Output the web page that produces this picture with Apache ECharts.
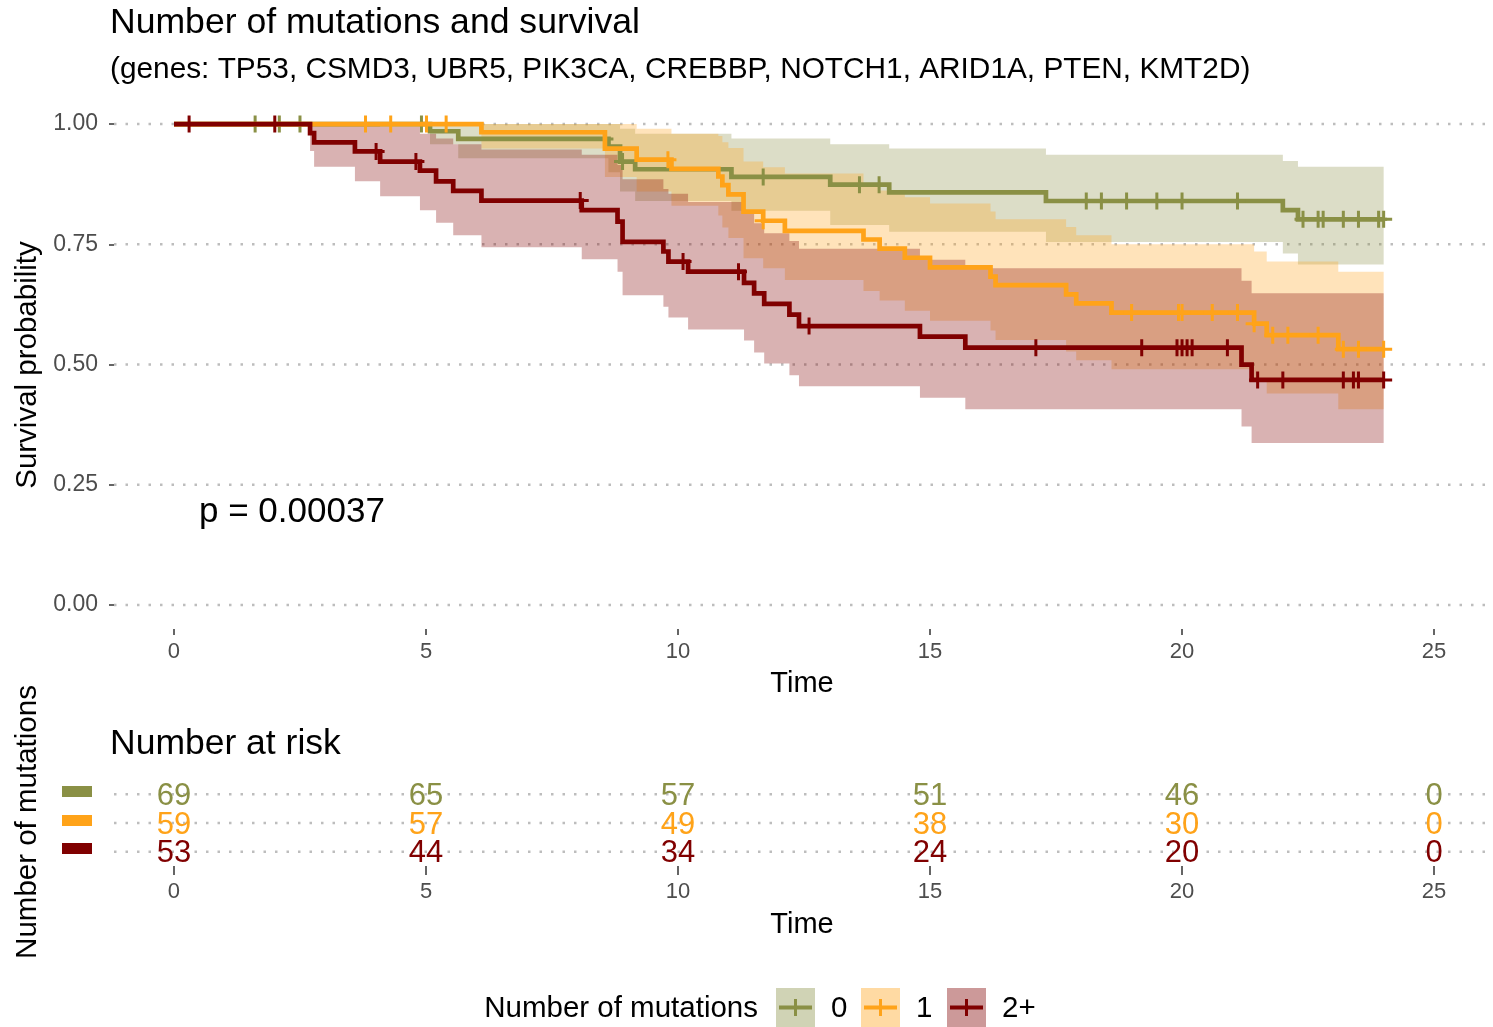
<!DOCTYPE html>
<html><head><meta charset="utf-8">
<script src="https://cdn.jsdelivr.net/npm/echarts@6/dist/echarts.min.js"></script>
<style>html,body{margin:0;padding:0;background:#fff}#c{width:1493px;height:1027px}</style>
</head><body><div id="c"></div>
<script>
// ---------- data ----------
const groupNames = ['0', '1', '2+'];
const groupColors = ['#8A9045', '#FFA319', '#800000'];
const endTime = 24.0;

// group "0"
const times0 = [0, 5.08, 5.64, 8.62, 8.85, 9.15, 11.06, 13.02, 14.19, 17.3, 22.0, 22.3];
const surv0  = [1, 0.985, 0.969, 0.953, 0.922, 0.906, 0.890, 0.874, 0.858, 0.840, 0.821, 0.802];
const upper0 = [1, 1, 1, 1, 0.99, 0.98, 0.97, 0.958, 0.949, 0.936, 0.923, 0.911];
const lower0 = [1, 0.958, 0.929, 0.90, 0.86, 0.84, 0.82, 0.79, 0.776, 0.755, 0.731, 0.708];
const censor0 = [1.61, 2.09, 2.5, 4.91, 8.55, 8.9, 11.69, 13.6, 13.99, 18.1, 18.4, 18.9, 19.5, 20.0, 21.1, 22.4, 22.7, 22.8, 23.2, 23.5, 23.9, 24.0];

// group "1"
const times1 = [0, 6.1, 8.55, 9.18, 9.87, 10.8, 10.88, 11.0, 11.3, 11.69, 12.12, 13.68, 14.0, 14.5, 15.0, 16.2, 16.3, 17.7, 17.9, 18.6, 21.43, 21.68, 23.1];
const surv1  = [1, 0.983, 0.949, 0.926, 0.907, 0.891, 0.873, 0.854, 0.818, 0.799, 0.778, 0.760, 0.741, 0.722, 0.702, 0.683, 0.665, 0.646, 0.627, 0.608, 0.585, 0.561, 0.532];
const upper1 = [1, 1, 1, 0.99, 0.98, 0.975, 0.962, 0.950, 0.922, 0.91, 0.897, 0.875, 0.862, 0.848, 0.835, 0.818, 0.802, 0.786, 0.769, 0.750, 0.735, 0.714, 0.693];
const lower1 = [1, 0.949, 0.89, 0.86, 0.83, 0.81, 0.785, 0.763, 0.721, 0.70, 0.676, 0.653, 0.633, 0.612, 0.591, 0.571, 0.551, 0.527, 0.509, 0.490, 0.466, 0.440, 0.407];
const censor1 = [3.80, 4.30, 5.01, 5.40, 9.8, 11.69, 19.0, 19.93, 20.0, 20.6, 21.1, 21.43, 21.8, 22.1, 22.7, 23.2, 23.5, 24.0];

// group "2+"
const times2 = [0, 2.70, 2.78, 3.59, 4.09, 4.88, 5.20, 5.54, 6.10, 8.09, 8.80, 8.90, 9.71, 9.81, 10.2, 11.31, 11.51, 11.71, 12.21, 12.40, 14.8, 15.7, 21.18, 21.38];
const surv2  = [1, 0.981, 0.962, 0.943, 0.922, 0.903, 0.881, 0.861, 0.841, 0.821, 0.797, 0.755, 0.735, 0.714, 0.693, 0.670, 0.648, 0.626, 0.604, 0.580, 0.558, 0.535, 0.500, 0.468];
const upper2 = [1, 1, 1, 1, 0.995, 0.98, 0.97, 0.958, 0.947, 0.936, 0.915, 0.885, 0.865, 0.855, 0.838, 0.815, 0.794, 0.773, 0.757, 0.741, 0.718, 0.700, 0.674, 0.648];
const lower2 = [1, 0.944, 0.911, 0.881, 0.850, 0.821, 0.795, 0.769, 0.744, 0.719, 0.693, 0.644, 0.620, 0.598, 0.573, 0.550, 0.525, 0.502, 0.478, 0.455, 0.431, 0.407, 0.371, 0.337];
const censor2 = [0.30, 2.0, 4.01, 4.8, 8.06, 10.1, 11.2, 12.6, 17.1, 19.2, 19.9, 20.0, 20.1, 20.2, 20.9, 21.5, 22.0, 23.2, 23.4, 23.5, 24.0];

// number at risk table
const riskTimes = [0, 5, 10, 15, 20, 25];
const risk0 = [69, 65, 57, 51, 46, 0];
const risk1 = [59, 57, 49, 38, 30, 0];
const risk2 = [53, 44, 34, 24, 20, 0];

const xTicks = [0, 5, 10, 15, 20, 25];
const yTicks = [0, 0.25, 0.5, 0.75, 1];
const pText = 'p = 0.00037';

// ---------- build ----------
const FONT = '"Liberation Sans", Arial, Helvetica, sans-serif';
const X_MIN = -1.19, X_MAX = 26.11;
const groups = [
  {T: times0, S: surv0, U: upper0, L: lower0, C: censor0, risk: risk0},
  {T: times1, S: surv1, U: upper1, L: lower1, C: censor1, risk: risk1},
  {T: times2, S: surv2, U: upper2, L: lower2, C: censor2, risk: risk2}
];
function rgba(hex, a) {
  const n = parseInt(hex.slice(1), 16);
  return 'rgba(' + (n >> 16 & 255) + ',' + (n >> 8 & 255) + ',' + (n & 255) + ',' + a + ')';
}
function stepValue(T, S, t) {
  let v = S[0];
  for (let i = 0; i < T.length; i++) { if (T[i] <= t) v = S[i]; }
  return v;
}
const PLUS = 'path://M-8.5,-1.5H8.5V1.5H-8.5Z M-1.5,-8.5H1.5V8.5H-1.5Z';

function gridLineSeries(xi, yi, ys) {
  return {
    type: 'custom', xAxisIndex: xi, yAxisIndex: yi, silent: true, z: 0,
    data: ys.map(v => [0, v]),
    renderItem: (p, api) => {
      const y = api.value(1);
      const a = api.coord([X_MIN, y]), b = api.coord([X_MAX, y]);
      return {type: 'line', shape: {x1: a[0], y1: a[1], x2: b[0], y2: b[1]},
        style: {stroke: '#bdbdbd', lineWidth: 2.5, lineDash: [2.5, 9]}};
    }
  };
}

const series = [];
series.push(gridLineSeries(0, 0, yTicks));
// ribbons
groups.forEach((g, gi) => {
  series.push({
    type: 'custom', xAxisIndex: 0, yAxisIndex: 0, silent: true, z: 1,
    data: [[0, 0]],
    renderItem: (p, api) => {
      const pts = [];
      const n = g.T.length;
      for (let i = 0; i < n; i++) {
        const te = i < n - 1 ? g.T[i + 1] : endTime;
        pts.push(api.coord([g.T[i], g.U[i]]), api.coord([te, g.U[i]]));
      }
      for (let i = n - 1; i >= 0; i--) {
        const te = i < n - 1 ? g.T[i + 1] : endTime;
        pts.push(api.coord([te, g.L[i]]), api.coord([g.T[i], g.L[i]]));
      }
      return {type: 'polygon', shape: {points: pts}, style: {fill: rgba(groupColors[gi], 0.3)}};
    }
  });
});
// survival lines + censor marks
groups.forEach((g, gi) => {
  const data = g.T.map((t, i) => [t, g.S[i]]);
  data.push([endTime, g.S[g.S.length - 1]]);
  series.push({
    type: 'line', name: groupNames[gi], xAxisIndex: 0, yAxisIndex: 0, step: 'end',
    data: data, showSymbol: false, symbol: 'none', z: 3 + gi, silent: true,
    lineStyle: {color: groupColors[gi], width: 4.7, cap: 'butt', join: 'miter'}
  });
  series.push({
    type: 'scatter', xAxisIndex: 0, yAxisIndex: 0, z: 3 + gi, silent: true,
    symbol: PLUS, symbolSize: 17,
    itemStyle: {color: groupColors[gi], opacity: 1},
    data: g.C.map(t => [t, stepValue(g.T, g.S, t)])
  });
});
// risk table grid lines
series.push(gridLineSeries(1, 1, [1, 2, 3]));
// risk numbers (text drawn through the axes)
groups.forEach((g, gi) => {
  series.push({
    type: 'custom', xAxisIndex: 1, yAxisIndex: 1, silent: true, z: 5,
    data: riskTimes.map((t, i) => [t, 3 - gi, g.risk[i]]),
    renderItem: (p, api) => {
      const c = api.coord([api.value(0), api.value(1)]);
      return {type: 'text', x: c[0], y: c[1] + 2,
        style: {text: String(api.value(2)), font: '31px ' + FONT, fill: groupColors[gi],
          align: 'center', verticalAlign: 'middle'}};
    }
  });
});

const axisLabelStyle = {fontSize: 22, color: '#4d4d4d', fontFamily: FONT};
const option = {
  animation: false,
  textStyle: {fontFamily: FONT},
  grid: [
    {left: 114, right: 3, top: 100, height: 529.1},
    {left: 114, right: 3, top: 779.95, height: 86.1}
  ],
  xAxis: [
    {gridIndex: 0, type: 'value', min: X_MIN, max: X_MAX,
      axisLine: {show: false, onZero: false}, splitLine: {show: false},
      axisTick: {show: true, customValues: xTicks, length: 6, lineStyle: {color: '#333', width: 1.5}},
      axisLabel: Object.assign({customValues: xTicks, margin: 12}, axisLabelStyle),
      name: 'Time', nameLocation: 'middle', nameGap: 40,
      nameTextStyle: {fontSize: 29, color: '#000', fontFamily: FONT}},
    {gridIndex: 1, type: 'value', min: X_MIN, max: X_MAX,
      axisLine: {show: false, onZero: false}, splitLine: {show: false},
      axisTick: {show: true, customValues: xTicks, length: 9, lineStyle: {color: '#333', width: 1.5}},
      axisLabel: Object.assign({customValues: xTicks, margin: 15}, axisLabelStyle),
      name: 'Time', nameLocation: 'middle', nameGap: 44,
      nameTextStyle: {fontSize: 29, color: '#000', fontFamily: FONT}}
  ],
  yAxis: [
    {gridIndex: 0, type: 'value', min: -0.05, max: 1.05,
      axisLine: {show: false, onZero: false}, splitLine: {show: false},
      axisTick: {show: true, customValues: yTicks, length: 5, lineStyle: {color: '#333', width: 1.5}},
      axisLabel: Object.assign({customValues: yTicks, margin: 16, formatter: v => Number(v).toFixed(2)},
        axisLabelStyle, {fontSize: 23})},
    {gridIndex: 1, type: 'value', min: 0.5, max: 3.5,
      axisLine: {show: false, onZero: false}, splitLine: {show: false}, axisTick: {show: false}, axisLabel: {show: false}}
  ],
  series: series,
  graphic: [
    {type: 'text', x: 110, y: 23, style: {text: 'Number of mutations and survival', font: '35.6px ' + FONT, fill: '#000', verticalAlign: 'middle', align: 'left'}},
    {type: 'text', x: 110, y: 70, style: {text: '(genes: TP53, CSMD3, UBR5, PIK3CA, CREBBP, NOTCH1, ARID1A, PTEN, KMT2D)', font: '29.8px ' + FONT, fill: '#000', verticalAlign: 'middle', align: 'left'}},
    {type: 'text', x: 28, y: 365, rotation: Math.PI / 2, style: {text: 'Survival probability', font: '29.5px ' + FONT, fill: '#000', verticalAlign: 'middle', align: 'center'}},
    {type: 'text', x: 199, y: 512, style: {text: pText, font: '35px ' + FONT, fill: '#000', verticalAlign: 'middle', align: 'left'}},
    {type: 'text', x: 110, y: 744, style: {text: 'Number at risk', font: '35.5px ' + FONT, fill: '#000', verticalAlign: 'middle', align: 'left'}},
    {type: 'text', x: 28, y: 822, rotation: Math.PI / 2, style: {text: 'Number of mutations', font: '29.5px ' + FONT, fill: '#000', verticalAlign: 'middle', align: 'center'}},
    {type: 'rect', shape: {x: 62, y: 786, width: 30, height: 11}, style: {fill: groupColors[0]}},
    {type: 'rect', shape: {x: 62, y: 815, width: 30, height: 11}, style: {fill: groupColors[1]}},
    {type: 'rect', shape: {x: 62, y: 843, width: 30, height: 11}, style: {fill: groupColors[2]}},
    // bottom legend
    {type: 'text', x: 758, y: 1009, style: {text: 'Number of mutations', font: '29.5px ' + FONT, fill: '#000', verticalAlign: 'middle', align: 'right'}}
  ].concat(groupNames.flatMap((name, gi) => {
    const bx = [776, 861, 947][gi];
    const tx = [831, 916, 1002][gi];
    return [
      {type: 'rect', shape: {x: bx, y: 988, width: 39, height: 39}, style: {fill: rgba(groupColors[gi], 0.4)}},
      {type: 'line', shape: {x1: bx + 3, y1: 1007.5, x2: bx + 36, y2: 1007.5}, style: {stroke: groupColors[gi], lineWidth: 4}},
      {type: 'line', shape: {x1: bx + 19.5, y1: 999, x2: bx + 19.5, y2: 1016}, style: {stroke: groupColors[gi], lineWidth: 3}},
      {type: 'text', x: tx, y: 1009, style: {text: name, font: '29.5px ' + FONT, fill: '#000', verticalAlign: 'middle', align: 'left'}}
    ];
  }))
};
const chart = echarts.init(document.getElementById('c'), null, {renderer: 'canvas'});
chart.setOption(option);
</script>
</body></html>
